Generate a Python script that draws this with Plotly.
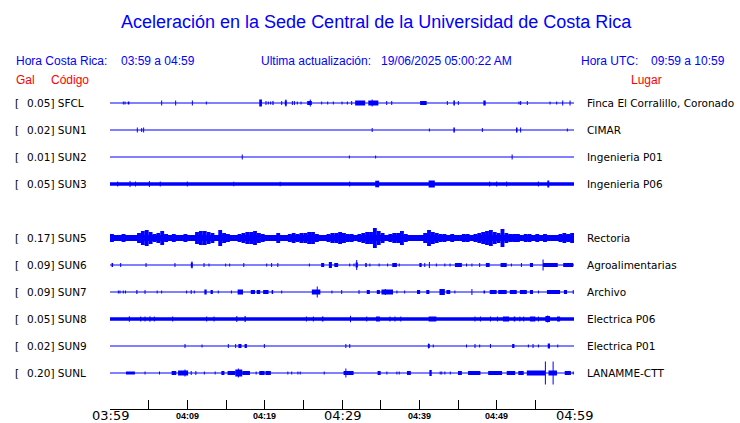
import plotly.graph_objects as go

# ---------------- data ----------------
stations = ["SFCL", "SUN1", "SUN2", "SUN3", "SUN5", "SUN6", "SUN7", "SUN8", "SUN9", "SUNL"]
gal = ["0.05", "0.02", "0.01", "0.05", "0.17", "0.09", "0.09", "0.05", "0.02", "0.20"]
places = ["Finca El Corralillo, Coronado", "CIMAR", "Ingenieria P01", "Ingenieria P06",
          "Rectoria", "Agroalimentarias", "Archivo", "Electrica P06", "Electrica P01", "LANAMME-CTT"]
slots = [0, 1, 2, 3, 5, 6, 7, 8, 9, 10]          # SUN4 slot left empty
noise = [0, 0, 0, 1.8, 3.0, 0, 0, 1.8, 0, 0]        # background noise half-width

tick_minutes = [0, 10, 20, 30, 40, 50, 60]
tick_labels = ["03:59", "04:09", "04:19", "04:29", "04:39", "04:49", "04:59"]
major_ticks = [True, False, False, True, False, False, True]

# events: (start minute, duration minute, half amplitude)
SFCL_EV = [(1.72,0,1.5),(1.94,0,1.5),(2.3,0.2,1.5),(6.68,0,2.5),(8.49,0,2.5),(10.65,0,2.5),(12.46,0,1.5),
           (19.3,0.35,3.5),(20.17,0,2),(20.47,0,1.5),(20.77,0,1.5),(21.0,0.15,2),(22.2,0,2),(22.6,0.25,2.5),
           (22.75,0,3.5),(23.58,0,2),(23.84,0,2),(24.22,0,1.5),(24.7,0,1.5),(25.5,0.6,2),(25.9,0,3.5),
           (27.37,0,1.5),(28.15,0,1.5),(28.88,0,1.5),(30.0,0,1.5),(30.69,0,1.5),(31.25,0,2),(31.7,1.3,2.5),
           (33.4,1.3,2.5),(33.9,0,3.5),(35.78,0,2),(36.43,0,2),(40.1,0.85,2),(43.62,0,2),(44.4,0.2,2.5),
           (45.04,0,2),(48.28,0.3,2.5),(52.89,0,1.5),(53.1,0,2),(53.96,0,2),(56.9,0,1.5),(57.76,0,1.5),
           (58.54,0,2.5),(59.49,0,2.5)]
SUN1_EV = [(3.53,0,2.5),(4.1,0,2),(4.35,0,2.5),(33.9,0,2),(41.3,0,1.5),(44.4,0.2,2.5),(48.15,0,2),
           (52.5,0.2,2.5),(53.1,0,2.5),(59.14,0,1.5)]
SUN2_EV = [(17.1,0,2.5),(30.95,0,1.5),(34.35,0,1.5),(52.0,0,2.5)]
SUN3_EV = [(1.0,0,2.5),(2.59,0,3),(3.3,0,2.5),(5.09,0,3),(6.5,0,2.5),(10.0,0,2.5),(16.0,0,2.3),(22.0,0,2.3),
           (31.0,0,2.5),(34.3,0.5,3.3),(41.2,0.8,3.5),(49.1,0,2.5),(50.0,0,2.5),(51.3,0,2.5),(55.4,0,2.5),
           (56.55,0.25,3.5)]
# SUN5 envelope (half amplitude) every half minute
SUN5_ENV = [4,3, 3,4, 3,3, 3,5, 7,8, 6,4, 5,7, 4,3, 4,3, 3,4,
            3,3, 6,7, 7,6, 5,3, 8,5, 4,3, 3,4, 5,6, 6,7, 5,4,
            3,3, 3,5, 3,3, 4,5, 4,5, 5,6, 6,4, 3,3, 4,5, 5,6,
            5,4, 4,3, 4,5, 6,6, 10,7, 5,3, 4,5, 5,7, 4,3, 3,3,
            3,5, 8,6, 5,4, 4,3, 4,3, 3,4, 4,3, 4,5, 6,7, 8,6,
            5,9, 5,4, 4,4, 3,4, 4,3, 4,3, 4,3, 3,3, 4,5, 4,5]
SUN6_EV = [(0.2,0.2,2),(1.38,0,2),(4.66,0,2),(8.4,0,2),(10.45,0.25,2.5),(10.6,0,3.5),(12.16,0,2),(12.8,0,1.5),
           (14.96,0,1.5),(15.47,0,1.5),(17.3,0,2),(20.26,0,1.5),(20.9,0,2),(21.7,0,2),(25.78,0,1.5),
           (27.3,0.4,2),(28.3,0.4,3),(29.0,0.5,2),(31.0,0,1.5),(31.55,0,1.5),(31.75,0.3,2.5),(31.9,0,5),
           (33.0,0.2,2),(33.6,0,1.5),(34.8,0,1.5),(35.9,0,1.5),(36.5,0.6,2),(37.4,0,1.5),(40.0,0.3,2),
           (40.7,0,2),(41.3,0,3),(42.2,0,1.5),(43.3,0,1.5),(43.97,0,1.5),(44.6,0.9,2),(46.1,0,1.5),
           (46.8,0,1.5),(47.8,0,2),(48.6,0.5,2),(50.5,0.8,2),(51.9,0,1.5),(53.2,0,2),(54.3,0.4,2),
           (56.0,0,5.5),(56.0,1.9,2),(58.6,1.3,2)]
SUN7_EV = [(1.08,0,1.5),(1.29,0,1.5),(1.72,0,1.5),(2.0,0,1.5),(3.4,0.15,2),(4.53,0,2),(6.1,0,1.5),(6.68,0,1.5),
           (9.9,0,1.5),(10.5,0,2),(10.9,0,1.5),(12.2,0.3,2.5),(13.0,0.3,2),(14.0,0,1.5),(15.7,0,1.5),
           (16.5,0.7,2.5),(18.2,0.55,2),(18.97,0.45,2),(19.8,0.7,2),(20.9,0.2,2),(22.2,0,1.5),(26.1,1.1,2.5),
           (26.8,0,5.5),(28.7,0,1.5),(29.96,0,2),(32.2,0,2),(33.2,0.4,2),(34.5,0.4,2),(35.1,1.5,2.5),
           (35.6,0,3),(37.1,0,1.5),(38.1,0,1.5),(39.7,0.4,2),(40.9,0.4,2),(42.6,0.7,3),(43.5,0.5,2),
           (44.6,0,1.5),(46.8,0,3),(48.3,0.2,1.5),(49.1,0.9,2),(50.2,1.1,2),(51.7,0.9,2),(53.0,0.9,2),
           (54.3,0.4,2),(55.4,0,1.5),(56.5,1.7,2),(58.7,0.4,2),(59.9,0,2)]
SUN8_EV = [(2.5,0,2.7),(3.97,0,2.5),(4.53,0,2.5),(5.17,0,2.7),(5.73,0,2.5),(8.1,0,2.5),(12.5,0,2.5),
           (13.45,0,2.5),(16.4,0,3),(17.4,0.15,3),(25.4,0,2.5),(26.3,0,2.5),(27.4,0.2,2.5),(31.1,0,3.3),
           (33.2,0,2.5),(34.4,0.5,2.5),(36.2,0,2.5),(36.85,0,2.5),(37.6,0,2.5),(41.2,1.0,2.5),(47.2,0,2.5),
           (47.9,0,2.5),(49.2,0,2.5),(50.1,0,2.5),(50.8,0.8,2.5),(52.2,0.2,2.5),(53.0,0,2.5),(53.5,0,2.5),
           (54.3,0.7,2.5),(55.4,0,2.5),(56.3,0.6,3),(56.6,0,3.5),(57.8,0.4,2.5)]
SUN9_EV = [(9.7,0,2),(11.9,0,1.5),(15.3,0,2),(16.25,0,2),(16.6,0.4,2),(17.4,0.3,2),(19.96,0,2),(30.5,0,2),
           (31.0,0,2),(41.1,0.25,2),(41.2,0,2.5),(41.8,0,1.5),(46.1,0,1.5),(47.2,0,2),(47.8,0,1.5),
           (49.2,0,2),(52.0,0.3,2),(54.1,0,1.5),(54.7,0,2),(55.4,0,1.5),(56.6,0.3,2.5),(57.9,0,1.5)]
SUNL_EV = [(2.07,1.15,1.5),(4.53,0,1.5),(6.4,0,1.5),(7.97,0.6,2),(8.8,1.3,2.5),(9.7,0,3.5),(10.5,0,2),
           (11.1,0,2),(12.2,0,1.5),(13.6,0,1.5),(14.4,0.4,2),(15.2,1.0,2),(16.2,0.9,3.5),(16.6,0,4.5),
           (17.1,1.0,2),(18.9,0,1.5),(19.3,0.7,2),(20.1,0.7,2),(23.0,0,1.5),(23.5,0,1.5),(24.3,0,1.5),
           (24.6,0,1.5),(27.7,0,1.5),(30.2,1.3,2),(30.5,0,4.5),(34.6,0.4,2),(35.8,0,1.5),(37.1,0,1.5),
           (37.4,0,1.5),(38.4,0.5,2),(41.3,0.3,3),(42.7,0,1.5),(42.9,0,1.5),(43.3,0,1.5),(44.0,0,1.5),
           (45.0,0.5,2),(46.3,1.6,2),(48.9,1.8,2),(51.3,1.1,2),(52.8,0.7,2),(53.9,2.4,2.5),(56.3,0,11.5),
           (56.7,1.1,2.5),(57.3,0,11.5),(58.8,0.8,2),(59.9,0,1.5)]

SUN5_STEP = 0.5
events = {"SFCL": SFCL_EV, "SUN1": SUN1_EV, "SUN2": SUN2_EV, "SUN3": SUN3_EV,
          "SUN6": SUN6_EV, "SUN7": SUN7_EV, "SUN8": SUN8_EV, "SUN9": SUN9_EV, "SUNL": SUNL_EV}

# ---------------- layout constants ----------------
W, H = 740, 423
ML, MR, MT, MB = 110, 166, 88, 14
ROW = 27                     # y axis unit = 1 px
Y_TOP, Y_BOT = 15, -306
BLUE = "#0000ff"
RED = "#ff0000"
SPIKE_W = 0.13


def px_x(px):
    return (px - ML) / (W - ML - MR)


def px_y(py):
    return (H - MB - py) / (H - MT - MB)


fig = go.Figure()
for i, st in enumerate(stations):
    off = -slots[i] * ROW
    fig.add_trace(go.Scatter(x=[0, 60], y=[off, off], mode="lines",
                             line=dict(color=BLUE, width=max(1.2, 2 * noise[i])),
                             hoverinfo="skip", showlegend=False))
    if st == "SUN5":
        fig.add_trace(go.Bar(
            x=[SUN5_STEP * (k + 0.5) for k in range(len(SUN5_ENV))],
            width=0.5,
            base=[off - a for a in SUN5_ENV],
            y=[2 * a for a in SUN5_ENV],
            marker=dict(color=BLUE, line=dict(width=0)),
            hoverinfo="skip", showlegend=False))
        continue
    ev = events[st]
    fig.add_trace(go.Bar(
        x=[t + d / 2 for t, d, a in ev],
        width=[max(d, SPIKE_W) for t, d, a in ev],
        base=[off - a for t, d, a in ev],
        y=[2 * a for t, d, a in ev],
        marker=dict(color=BLUE, line=dict(width=0)),
        hoverinfo="skip", showlegend=False))

ann = []
AR = "Liberation Sans, Arial, sans-serif"
DV = "DejaVu Sans, sans-serif"


def text(s, x, y, color, size, family, anchor="left", yref="paper"):
    ann.append(dict(text=s, x=x, y=y, xref="paper", yref=yref, xanchor=anchor, yanchor="middle",
                    showarrow=False, font=dict(color=color, size=size, family=family)))


text("Aceleración en la Sede Central de la Universidad de Costa Rica", px_x(376), px_y(22), BLUE, 18, AR, "center")
text("Hora Costa Rica:", px_x(14), px_y(61), BLUE, 12, AR)
text("03:59 a 04:59", px_x(119), px_y(61), BLUE, 12, AR)
text("Ultima actualización:", px_x(259), px_y(61), BLUE, 12, AR)
text("19/06/2025 05:00:22 AM", px_x(379), px_y(61), BLUE, 12, AR)
text("Hora UTC:", px_x(579), px_y(61), BLUE, 12, AR)
text("09:59 a 10:59", px_x(649), px_y(61), BLUE, 12, AR)
text("Gal", px_x(14), px_y(80), RED, 12, AR)
text("Código", px_x(49), px_y(80), RED, 12, AR)
text("Lugar", px_x(629), px_y(80), RED, 12, AR)

for i, st in enumerate(stations):
    off = -slots[i] * ROW
    text("[", px_x(13), off, "black", 10.5, DV, yref="y")
    text(f"{gal[i]}] {st}", px_x(25), off, "black", 10.5, DV, yref="y")
    text(places[i], px_x(585), off, "black", 10.5, DV, yref="y")

for m, lab, big in zip(tick_minutes, tick_labels, major_ticks):
    ann.append(dict(text=lab if big else f"<b>{lab}</b>", x=m, xref="x", y=px_y(416), yref="paper",
                    xanchor="center", yanchor="middle", showarrow=False,
                    font=dict(color="black", size=13 if big else 9, family=DV if big else AR)))

fig.update_layout(
    width=W, height=H, margin=dict(l=ML, r=MR, t=MT, b=MB),
    paper_bgcolor="white", plot_bgcolor="white",
    barmode="overlay", hovermode=False, showlegend=False,
    annotations=ann,
    xaxis=dict(range=[0, 60], showline=True, linecolor="black", linewidth=1,
               ticks="inside", ticklen=9, tickwidth=1, tickcolor="black",
               tick0=0, dtick=5, showticklabels=False, showgrid=False, zeroline=False, fixedrange=True),
    yaxis=dict(range=[Y_BOT, Y_TOP], visible=False, showgrid=False, zeroline=False, fixedrange=True),
)

fig.write_html("out.html", config={"displayModeBar": False, "staticPlot": True},
               post_script="document.body.style.margin='0';document.body.style.overflow='hidden';")
